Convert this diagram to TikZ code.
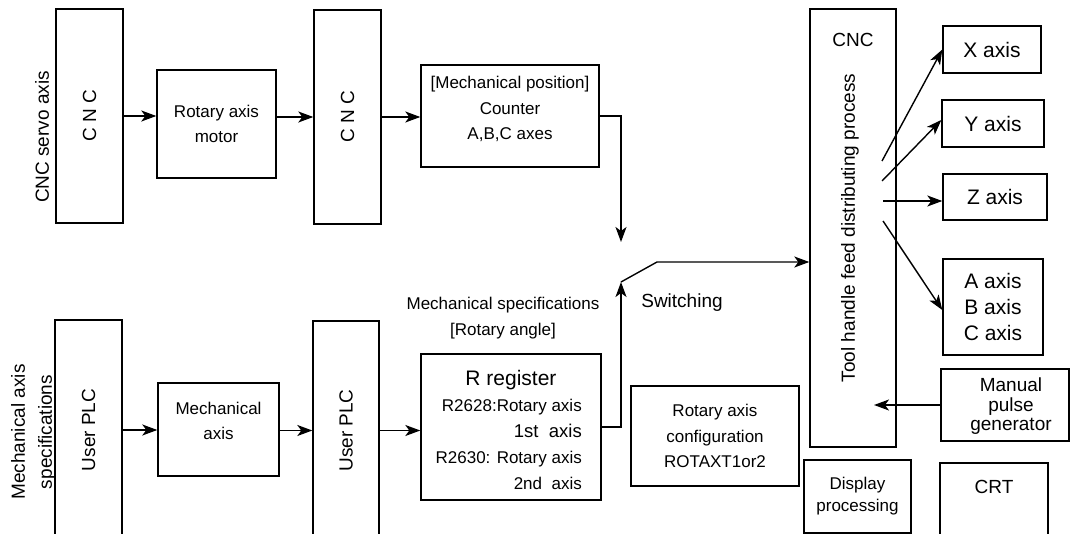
\documentclass[tikz,border=0pt]{standalone}
\usepackage{fontspec}
\setmainfont{Liberation Sans}
\usetikzlibrary{arrows.meta}
\tikzset{myarrowtip/.tip={Stealth[length=15pt,width=11pt,inset=4pt]}}
\begin{document}
\begin{tikzpicture}[x=1pt,y=-1pt,
  box/.style={draw, line width=1.4pt, inner sep=0pt, align=center},
  lbl/.style={inner sep=0pt, align=center},
  fa/.style={font=\fontsize{17}{25.5}\selectfont},
  fb/.style={font=\fontsize{19}{19.5}\selectfont},
  fc/.style={font=\fontsize{21}{26}\selectfont},
  arr/.style={line width=1.4pt, arrows={-myarrowtip}},
  ln/.style={line width=1.4pt}]
\useasboundingbox (0,0) rectangle (1070,534);
\clip (0,0) rectangle (1070,534);

% ---- top row
\node[lbl, fb, rotate=90] (servo) at (42,137) {CNC servo axis};
\node[box, fb, minimum width=67pt, minimum height=214pt] (cnc1) at (89.5,116) {\rotatebox{90}{C N C}};
\node[box, fa, minimum width=119pt, minimum height=108pt] (ram) at (216.5,124) {Rotary axis\\motor};
\node[box, fb, minimum width=67pt, minimum height=214pt] (cnc2) at (347.5,117) {\rotatebox{90}{C N C}};
\node[box, minimum width=178pt, minimum height=102pt] (mpos) at (510,116) {};
\node[lbl, fa] (mpost) at (510,109) {[Mechanical position]\\Counter\\A,B,C axes};

% ---- bottom row
\node[lbl, rotate=90, font=\fontsize{19}{27}\selectfont] (mspec) at (33.5,432) {Mechanical axis\\specifications};
\node[box, fb, minimum width=67pt, minimum height=220pt] (plc1) at (88.5,430) {\rotatebox{90}{User PLC}};
\node[box, minimum width=121pt, minimum height=93pt] (mech) at (218.5,429.5) {};
\node[lbl, fa] (mecht) at (218.5,421) {Mechanical\\axis};
\node[box, fb, minimum width=66pt, minimum height=219pt] (plc2) at (346,430.5) {\rotatebox{90}{User PLC}};
\node[box, minimum width=180pt, minimum height=146pt] (rreg) at (511,427) {};
\node[lbl, fc, anchor=base] (rregt) at (511,385.5) {R register};
\node[lbl, fa, anchor=base east] (r1) at (582,411) {R2628:Rotary axis};
\node[lbl, font=\fontsize{18.5}{20}\selectfont, anchor=base east] (r2) at (582,437.5) {1st\ \ axis};
\node[lbl, fa, anchor=base east] (r3) at (582,463) {R2630: Rotary axis};
\node[lbl, fa, anchor=base east] (r4) at (582,489) {2nd\ \ axis};
\node[lbl, fa] (specs) at (503,318) {Mechanical specifications\\{}[Rotary angle]};
\node[lbl, fb] (swt) at (682,303) {Switching};
\node[box, fa, minimum width=168pt, minimum height=100pt] (rac) at (715,436) {Rotary axis\\configuration\\ROTAXT1or2};

% ---- right side
\node[box, minimum width=86pt, minimum height=438pt] (cncbig) at (853,228) {};
\node[lbl, fb] (cncbigt) at (853,40) {CNC};
\node[lbl, fb, rotate=90] (tool) at (850,228) {Tool handle feed distributing process};
\node[box, fc, minimum width=98pt, minimum height=47pt] (xax) at (992,49.5) {X axis};
\node[box, fc, minimum width=102pt, minimum height=47pt] (yax) at (993,123.5) {Y axis};
\node[box, fc, minimum width=104pt, minimum height=46pt] (zax) at (995,197) {Z axis};
\node[box, fc, minimum width=100pt, minimum height=96pt] (abc) at (993,307) {A axis\\B axis\\C axis};
\node[box, minimum width=128pt, minimum height=72pt] (mpg) at (1005,405) {};
\node[lbl, fb] (mpgt) at (1011,406.5) {Manual\\pulse\\generator};
\node[box, font=\fontsize{17}{22}\selectfont, minimum width=107pt, minimum height=73pt] (disp) at (857.5,496.5) {Display\\processing};
\node[box, minimum width=108pt, minimum height=77pt] (crt) at (994,501.5) {};
\node[lbl, fb] (crtt) at (994,487) {CRT};

% ---- coordinates
\coordinate (swtop) at (621,242);
\coordinate (swpiv) at (621,282);
\coordinate (swknee) at (657,262);
\coordinate (fx) at (882,161);
\coordinate (fy) at (882,181);
\coordinate (fz) at (883,201);
\coordinate (fabc) at (883,221);
\coordinate (mpgtip) at (874,405);

% ---- connectors
\draw[arr] (cnc1.east) -- (cnc1.east -| ram.west);
\draw[arr] (cnc2.west -| ram.east) -- (cnc2.west);
\draw[arr] (cnc2.east) -- (cnc2.east -| mpos.west);
\draw[arr] (mpos.east) -| (swtop);
\draw[arr] (plc1.east) -- (plc1.east -| mech.west);
\draw[arr] (plc2.west -| mech.east) -- (plc2.west);
\draw[arr] (plc2.east) -- (plc2.east -| rreg.west);
\draw[arr] (rreg.east) -| (swpiv);
\draw[arr] (swpiv) -- (swknee) -- (swknee -| cncbig.west);
\draw[arr] (fx) -- (xax.west);
\draw[arr] (fy) -- ([yshift=3.5pt]yax.west);
\draw[arr] (fz) -- (fz -| zax.west);
\draw[arr] (fabc) -- ([yshift=-3pt]abc.west);
\draw[arr] (mpg.west) -- (mpg.west -| mpgtip);
\end{tikzpicture}
\end{document}
